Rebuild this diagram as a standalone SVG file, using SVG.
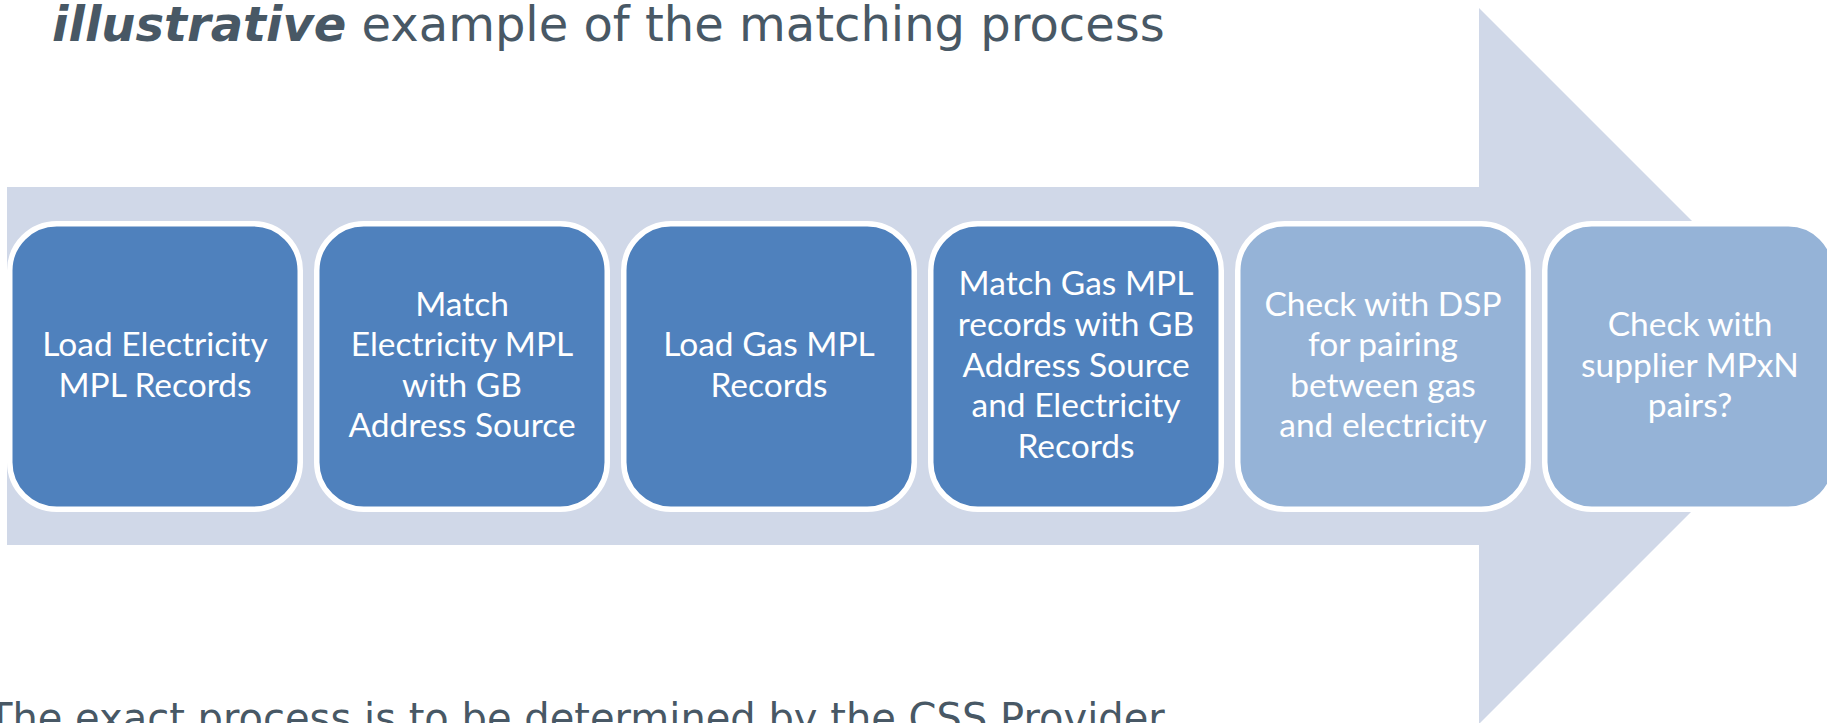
<svg xmlns="http://www.w3.org/2000/svg" width="1827" height="723" viewBox="0 0 1827 723">
<style>
.arrow{fill:#d0d8e8}
.box{stroke:#ffffff;stroke-width:5.5}
.dark{fill:#4f81bd}
.light{fill:#95b3d7}
.lbl{font-family:Lato,"Open Sans",sans-serif;font-size:33.5px;fill:#ffffff;text-anchor:middle}
.title{font-family:"DejaVu Sans",Verdana,sans-serif;font-size:48px;fill:#485865}
.note{font-family:"DejaVu Sans",Verdana,sans-serif;font-size:40px;fill:#485865}
</style>
<rect width="1827" height="723" fill="#ffffff"/>
<g id="arrow">
<polygon class="arrow" points="7,187 1479,187 1479,8 1837,366 1479,724 1479,545 7,545"/>
</g>
<g id="title">
<text class="title" x="52" y="41"><tspan font-weight="bold" font-style="italic">illustrative</tspan> example of the matching process</text>
</g>
<g id="connectors"></g>
<g id="n1">
<rect class="box dark" x="9.75" y="223.75" width="290.5" height="285.5" rx="47" ry="47"/>
<text class="lbl" x="155" y="356.2">Load Electricity</text>
<text class="lbl" x="155" y="396.8">MPL Records</text>
</g>
<g id="n2">
<rect class="box dark" x="316.75" y="223.75" width="290.5" height="285.5" rx="47" ry="47"/>
<text class="lbl" x="462" y="315.6">Match</text>
<text class="lbl" x="462" y="356.2">Electricity MPL</text>
<text class="lbl" x="462" y="396.8">with GB</text>
<text class="lbl" x="462" y="437.4">Address Source</text>
</g>
<g id="n3">
<rect class="box dark" x="623.75" y="223.75" width="290.5" height="285.5" rx="47" ry="47"/>
<text class="lbl" x="769" y="356.2">Load Gas MPL</text>
<text class="lbl" x="769" y="396.8">Records</text>
</g>
<g id="n4">
<rect class="box dark" x="930.75" y="223.75" width="290.5" height="285.5" rx="47" ry="47"/>
<text class="lbl" x="1076" y="295.3">Match Gas MPL</text>
<text class="lbl" x="1076" y="335.9">records with GB</text>
<text class="lbl" x="1076" y="376.5">Address Source</text>
<text class="lbl" x="1076" y="417.1">and Electricity</text>
<text class="lbl" x="1076" y="457.7">Records</text>
</g>
<g id="n5">
<rect class="box light" x="1237.75" y="223.75" width="290.5" height="285.5" rx="47" ry="47"/>
<text class="lbl" x="1383" y="315.6">Check with DSP</text>
<text class="lbl" x="1383" y="356.2">for pairing</text>
<text class="lbl" x="1383" y="396.8">between gas</text>
<text class="lbl" x="1383" y="437.4">and electricity</text>
</g>
<g id="n6">
<rect class="box light" x="1544.75" y="223.75" width="290.5" height="285.5" rx="47" ry="47"/>
<text class="lbl" x="1690" y="335.9">Check with</text>
<text class="lbl" x="1690" y="376.5">supplier MPxN</text>
<text class="lbl" x="1690" y="417.1">pairs?</text>
</g>
<g id="note">
<text class="note" x="-12" y="732">The exact process is to be determined by the CSS Provider</text>
</g>
</svg>
